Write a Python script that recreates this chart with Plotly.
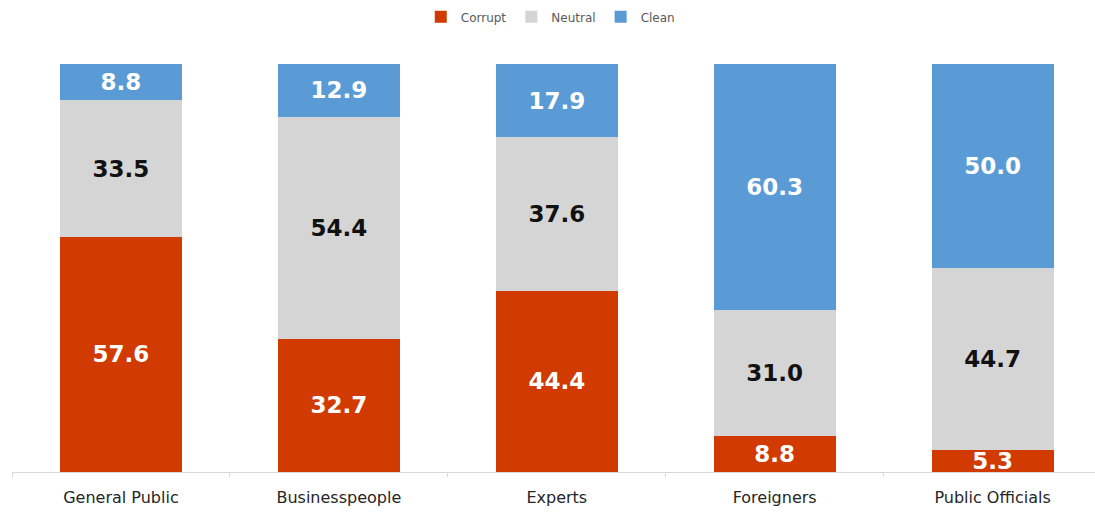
import plotly.graph_objects as go

categories = ["General Public", "Businesspeople", "Experts", "Foreigners", "Public Officials"]
corrupt = [57.6, 32.7, 44.4, 8.8, 5.3]
neutral = [33.5, 54.4, 37.6, 31.0, 44.7]
clean = [8.8, 12.9, 17.9, 60.3, 50.0]

series = [
    ("Corrupt", corrupt, "#D13A00", "white"),
    ("Neutral", neutral, "#D5D5D5", "#111111"),
    ("Clean", clean, "#5B9BD5", "white"),
]

fig = go.Figure()
for name, vals, color, tcolor in series:
    fig.add_trace(go.Bar(
        name=name, x=categories, y=vals,
        marker=dict(color=color, line=dict(width=0)),
        text=[f"{v:.1f}" for v in vals],
        textposition="inside", insidetextanchor="middle",
        textfont=dict(family="DejaVu Sans, sans-serif", size=23, color=tcolor, weight="bold"),
        constraintext="none",
    ))

fig.update_layout(
    barmode="stack",
    bargap=0.44,
    width=1095, height=515,
    margin=dict(l=12, r=0, t=64, b=43),
    paper_bgcolor="white", plot_bgcolor="white",
    uniformtext=dict(minsize=23, mode="show"),
    showlegend=True,
    legend=dict(orientation="h", x=0.497, xanchor="center", y=1.08, yanchor="bottom",
                font=dict(family="DejaVu Sans, sans-serif", size=12, color="#595959"),
                itemwidth=30, traceorder="normal"),
    xaxis=dict(showline=True, linecolor="#D9D9D9", linewidth=1,
               range=[-0.5, 4.47],
               ticks="outside", tickson="boundaries", ticklen=4, tickcolor="#D9D9D9",
               ticklabelstandoff=11,
               tickfont=dict(family="DejaVu Sans, sans-serif", size=16, color="#262626"),
               showgrid=False),
    yaxis=dict(range=[0, 100], visible=False, showgrid=False),
)
fig.write_html("out.html")
